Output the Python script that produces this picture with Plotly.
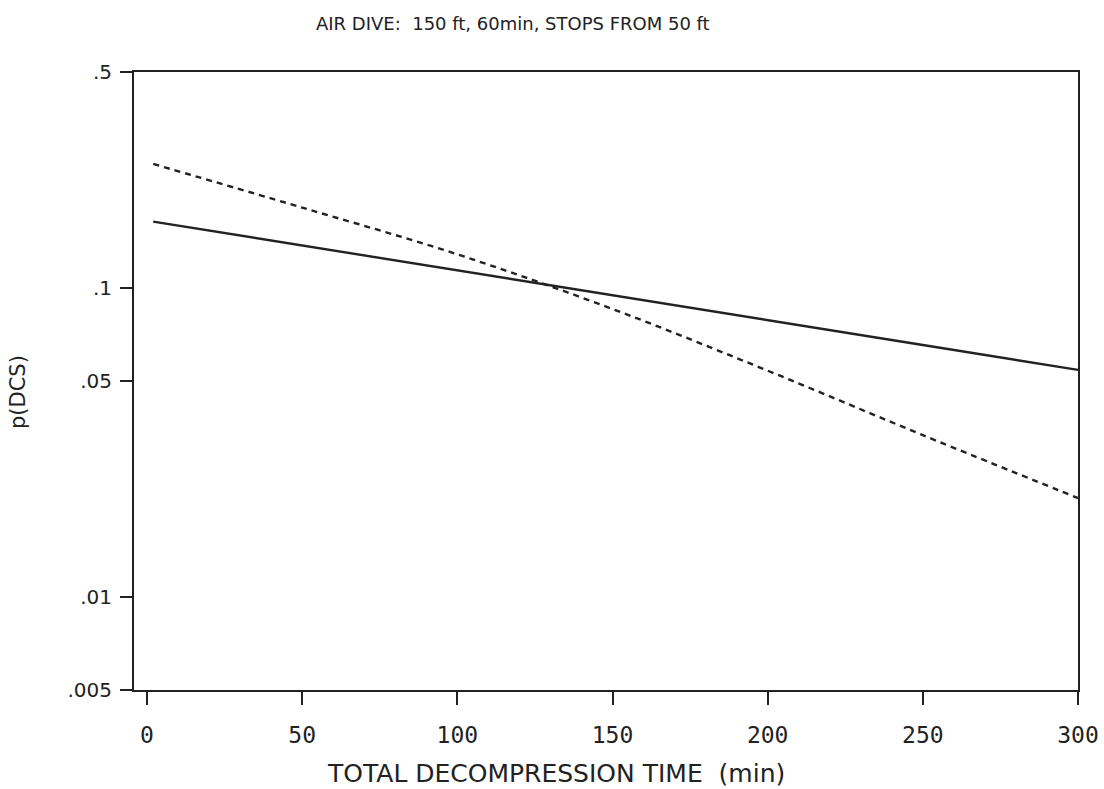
import plotly.graph_objects as go

time_min = [2, 50, 100, 150, 200, 250, 300]
p_solid = [0.164, 0.1374, 0.114, 0.0948, 0.0787, 0.0654, 0.0543]
p_dashed = [0.252, 0.182, 0.1285, 0.0855, 0.054, 0.0334, 0.0209]

y_tickvals = [0.5, 0.1, 0.05, 0.01, 0.005]
y_ticktext = [".5", ".1", ".05", ".01", ".005"]
x_tickvals = [0, 50, 100, 150, 200, 250, 300]

SANS = "DejaVu Sans, Liberation Sans, sans-serif"

fig = go.Figure()
fig.add_trace(go.Scatter(x=time_min, y=p_solid, mode="lines",
                         line=dict(color="#222", width=2.4), showlegend=False))
fig.add_trace(go.Scatter(x=time_min, y=p_dashed, mode="lines", line_shape="spline",
                         line=dict(color="#222", width=2.4, dash="6px,5px"), showlegend=False))

fig.update_layout(
    width=1104, height=789,
    margin=dict(l=134, r=26, t=72, b=99, autoexpand=False),
    paper_bgcolor="white", plot_bgcolor="white",
    font=dict(family=SANS, color="#222"),
    annotations=[
        dict(text="AIR DIVE:  150 ft, 60min, STOPS FROM 50 ft", xref="paper", yref="paper",
             x=(513 - 134) / 944, y=1, yshift=61, showarrow=False,
             font=dict(size=18, family=SANS)),
        dict(text="TOTAL DECOMPRESSION TIME  (min)", xref="paper", yref="paper",
             x=(556 - 134) / 944, y=0, yshift=-100, showarrow=False,
             font=dict(size=25, family=SANS)),
        dict(text="p(DCS)", xref="paper", yref="paper", textangle=-90,
             x=0, xshift=-130, y=(690 - 392) / 618, showarrow=False,
             font=dict(size=21, family=SANS)),
    ],
)
fig.update_xaxes(range=[-4.2, 300], tickvals=x_tickvals, ticks="outside", ticklen=13,
                 tickwidth=2, tickcolor="#222", showline=True, linecolor="#222", linewidth=2,
                 mirror=True, showgrid=False, zeroline=False, automargin=False,
                 ticklabelstandoff=10,
                 tickfont=dict(family="DejaVu Sans Mono, monospace", size=23, color="#222"))
fig.update_yaxes(type="log", range=[-2.30103, -0.30103], tickvals=y_tickvals, ticktext=y_ticktext,
                 ticks="outside", ticklen=12, tickwidth=2, tickcolor="#222",
                 showline=True, linecolor="#222", linewidth=2, mirror=True,
                 showgrid=False, zeroline=False, automargin=False,
                 ticklabelstandoff=4,
                 tickfont=dict(family=SANS, size=20, color="#222"))

fig.write_html("out.html")
